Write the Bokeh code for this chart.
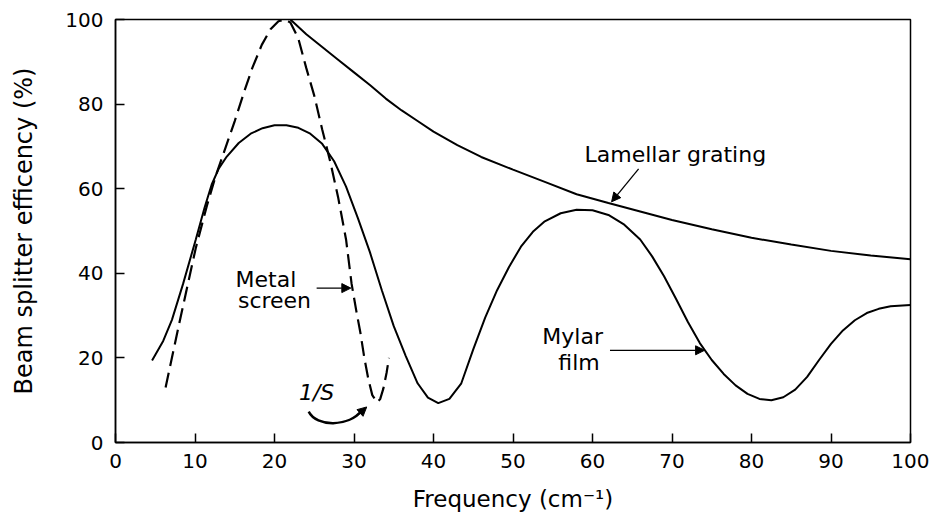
from bokeh.plotting import figure
from bokeh.models import Range1d, FixedTicker, Arrow, NormalHead, Label
from bokeh.embed import file_html
from bokeh.resources import INLINE

# ---------------- data ----------------
lamellar_x = [22, 24, 26, 28, 30, 32, 34, 36, 38, 40, 43, 46, 50, 54, 58, 62, 66, 70,
              75, 80, 85, 90, 95, 100]
lamellar_y = [100, 96.5, 93.5, 90.5, 87.5, 84.5, 81.3, 78.5, 76, 73.5, 70.3, 67.5, 64.5,
              61.6, 58.7, 56.6, 54.6, 52.6, 50.4, 48.4, 46.8, 45.3, 44.2, 43.3]

mylar_x = [4.6, 6, 7.1, 8.5, 10.1, 11.2, 12.1, 13, 14, 15.5, 17, 18.5, 20, 21.5, 23, 24.5,
           26, 27.5, 29, 30.5, 32, 33.5, 35, 36.5, 38, 39.3, 40.6, 42, 43.5, 45, 46.5, 48,
           49.5, 51, 52.5, 54, 56, 58, 60, 62, 64, 66, 67.5, 69, 70.5, 72, 73.5, 75, 76.5,
           78, 79.5, 81, 82.5, 84, 85.5, 87, 88.5, 90, 91.5, 93, 94.5, 96, 97.5, 99, 100]
mylar_y = [19.4, 24, 29, 37.5, 48, 55.5, 61, 64.8, 67.6, 70.8, 73, 74.3, 75, 75, 74.4, 73,
           70.6, 66.5, 60.5, 53, 45, 36, 27.5, 20.5, 14, 10.6, 9.3, 10.3, 14, 22, 29.5, 36,
           41.5, 46.3, 49.8, 52.3, 54.2, 55, 54.9, 53.8, 51.5, 48, 44, 39.3, 34, 28.5, 23.5,
           19.5, 16.2, 13.5, 11.5, 10.3, 10, 10.7, 12.5, 15.5, 19.5, 23.3, 26.5, 28.9, 30.6,
           31.6, 32.2, 32.4, 32.5]

metal_x = [6.3, 8, 10.1, 11.5, 12.6, 13.8, 15, 16.2, 17.2, 18.4, 19.5, 20.5, 21.3, 22, 23,
           24, 25, 26, 27, 28, 29, 29.7, 30.3, 30.8, 31.3, 31.8, 32.3, 32.9, 33.3, 33.7,
           34.1, 34.4]
metal_y = [13, 28, 46, 56, 63, 69.5, 76, 83, 88.5, 94, 97.7, 99.6, 100, 99.3, 95.5, 88.5,
           82, 74, 66.5, 58, 48, 37.5, 31, 26, 20, 15, 11.2, 9.5, 10.3, 12.8, 16.5, 20]

x_ticks = [0, 10, 20, 30, 40, 50, 60, 70, 80, 90, 100]
y_ticks = [0, 20, 40, 60, 80, 100]

FONT = "DejaVu Sans"

p = figure(width=929, height=514, x_range=Range1d(0, 100), y_range=Range1d(0, 100),
           output_backend="svg", toolbar_location=None,
           min_border_left=115, min_border_right=19, min_border_top=19, min_border_bottom=72)

p.grid.visible = False
p.background_fill_color = "white"
p.border_fill_color = "white"
p.outline_line_color = "black"
p.outline_line_width = 1.5

p.xaxis.ticker = FixedTicker(ticks=x_ticks)
p.yaxis.ticker = FixedTicker(ticks=y_ticks)
for ax in (p.xaxis[0], p.yaxis[0]):
    ax.axis_line_color = "black"
    ax.axis_line_width = 1.5
    ax.major_tick_line_color = "black"
    ax.major_tick_line_width = 1.5
    ax.major_tick_in = 9
    ax.major_tick_out = 0
    ax.minor_tick_line_color = None
    ax.major_label_text_font = FONT
    ax.major_label_text_font_size = "20px"
    ax.major_label_text_color = "black"
    ax.axis_label_text_font = FONT
    ax.axis_label_text_font_style = "normal"
    ax.axis_label_text_color = "black"

p.xaxis.axis_label = "Frequency (cm\u207b\u00b9)"
p.yaxis.axis_label = "Beam splitter efficency (%)"
p.xaxis.axis_label_text_font_size = "23px"
p.yaxis.axis_label_text_font_size = "24px"
p.xaxis.major_label_standoff = 11
p.xaxis.axis_label_standoff = 15
p.yaxis.major_label_standoff = 12
p.yaxis.axis_label_standoff = 24

# curves
p.line(lamellar_x, lamellar_y, line_color="black", line_width=2)
p.line(mylar_x, mylar_y, line_color="black", line_width=2)
p.line(metal_x, metal_y, line_color="black", line_width=2.2, line_dash="15 7")

# annotation texts
def lab(x, y, t, align="left", style="normal"):
    p.add_layout(Label(x=x, y=y, text=t, text_font=FONT, text_font_size="22px",
                       text_align=align, text_baseline="middle", text_color="black",
                       text_font_style=style))

lab(59.0, 68.0, "Lamellar grating")
lab(57.5, 25.1, "Mylar", align="center")
lab(58.3, 19.0, "film", align="center")
lab(15.1, 38.6, "Metal")
lab(15.4, 33.6, "screen")
lab(25.3, 11.8, "1/S", align="center", style="italic")

# arrows
def arr(x0, y0, x1, y1):
    p.add_layout(Arrow(end=NormalHead(size=9, fill_color="black", line_color="black"),
                       x_start=x0, y_start=y0, x_end=x1, y_end=y1,
                       line_color="black", line_width=1.3))

arr(65.8, 64.7, 62.4, 56.9)   # Lamellar grating
arr(62.2, 21.8, 74.1, 21.8)   # Mylar film
arr(25.3, 36.5, 29.6, 36.5)   # Metal screen

# curved 1/S arrow
p.bezier(x0=[24.3], y0=[7.3], x1=[31.0], y1=[7.6], cx0=[25.3], cy0=[3.6], cx1=[29.3], cy1=[3.6],
         line_color="black", line_width=2.5)
arr(30.3, 6.2, 31.6, 8.4)

open("out.html", "w").write(file_html(p, INLINE))
